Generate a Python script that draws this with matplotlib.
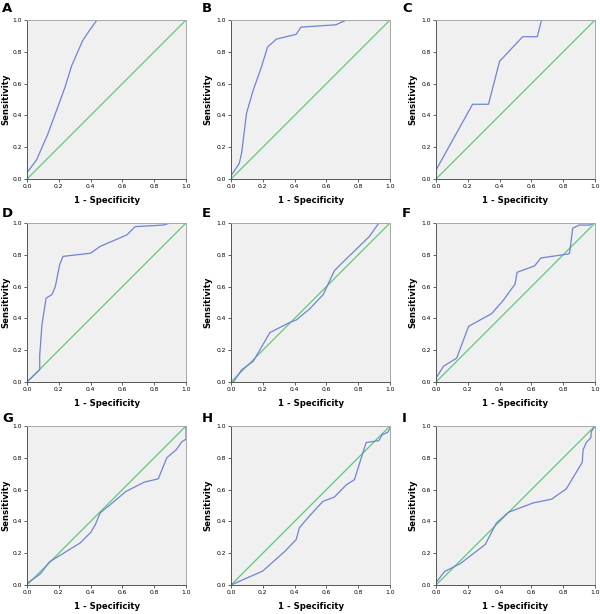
import matplotlib
matplotlib.use('Agg')
import matplotlib.pyplot as plt

# ROC curves: (1 - specificity, sensitivity)
a_x = [0, 0, 0.06, 0.13, 0.20, 0.24, 0.28, 0.35, 0.39, 0.44, 1.0]
a_y = [0, 0.04, 0.12, 0.28, 0.47, 0.58, 0.71, 0.87, 0.93, 1.0, 1.0]

b_x = [0, 0, 0.052, 0.067, 0.098, 0.14, 0.19, 0.23, 0.286, 0.41, 0.44, 0.66, 0.725, 1.0]
b_y = [0, 0.02, 0.098, 0.165, 0.415, 0.56, 0.70, 0.83, 0.88, 0.91, 0.955, 0.97, 1.0, 1.0]

c_x = [0, 0, 0.23, 0.33, 0.40, 0.545, 0.637, 0.664, 1.0]
c_y = [0, 0.056, 0.47, 0.47, 0.74, 0.895, 0.895, 1.0, 1.0]

d_x = [0, 0.08, 0.08, 0.094, 0.12, 0.157, 0.178, 0.205, 0.226, 0.40, 0.46, 0.628, 0.68, 0.857, 0.90, 1.0]
d_y = [0, 0.077, 0.17, 0.36, 0.527, 0.55, 0.60, 0.736, 0.79, 0.81, 0.853, 0.925, 0.977, 0.987, 1.0, 1.0]

e_x = [0, 0.015, 0.067, 0.14, 0.244, 0.36, 0.41, 0.495, 0.58, 0.65, 0.70, 0.87, 0.93, 1.0]
e_y = [0, 0, 0.077, 0.13, 0.31, 0.37, 0.39, 0.46, 0.55, 0.70, 0.75, 0.915, 1.0, 1.0]

f_x = [0, 0, 0.048, 0.13, 0.205, 0.35, 0.42, 0.497, 0.51, 0.62, 0.66, 0.83, 0.84, 0.86, 0.90, 0.967, 0.99, 1.0]
f_y = [0, 0.025, 0.10, 0.15, 0.35, 0.43, 0.51, 0.615, 0.69, 0.73, 0.78, 0.805, 0.81, 0.967, 0.987, 0.987, 1.0, 1.0]

g_x = [0, 0, 0.084, 0.142, 0.23, 0.335, 0.40, 0.43, 0.46, 0.523, 0.623, 0.738, 0.826, 0.879, 0.94, 0.973, 1.0, 1.0]
g_y = [0, 0.01, 0.07, 0.146, 0.20, 0.265, 0.33, 0.38, 0.453, 0.505, 0.589, 0.647, 0.668, 0.80, 0.852, 0.90, 0.917, 1.0]

h_x = [0, 0.2, 0.34, 0.41, 0.43, 0.495, 0.578, 0.65, 0.725, 0.776, 0.85, 0.93, 0.95, 0.985, 1.0, 1.0]
h_y = [0, 0.088, 0.213, 0.286, 0.36, 0.436, 0.526, 0.553, 0.63, 0.662, 0.896, 0.908, 0.944, 0.96, 0.985, 1.0]

i_x = [0, 0, 0.054, 0.152, 0.31, 0.38, 0.455, 0.61, 0.727, 0.82, 0.92, 0.925, 0.945, 0.973, 0.977, 1.0]
i_y = [0, 0.015, 0.085, 0.134, 0.255, 0.39, 0.457, 0.516, 0.54, 0.605, 0.772, 0.85, 0.896, 0.925, 0.965, 1.0]

letters = ['A', 'B', 'C', 'D', 'E', 'F', 'G', 'H', 'I']
curves = [(a_x, a_y), (b_x, b_y), (c_x, c_y), (d_x, d_y), (e_x, e_y),
          (f_x, f_y), (g_x, g_y), (h_x, h_y), (i_x, i_y)]
ticks = [0.0, 0.2, 0.4, 0.6, 0.8, 1.0]

W, H = 600, 614
fig = plt.figure(figsize=(6, 6.14), dpi=100)

col_left = [27, 231, 436]
col_origin = [0, 200, 400]
ylab_x = [-0.105, -0.12, -0.12]   # right edge of the rotated label
row_top = [20, 223, 426]
row_origin = [0, 205, 410]
size = 159

for k, (letter, (xs, ys)) in enumerate(zip(letters, curves)):
    r, c = divmod(k, 3)
    ax = fig.add_axes([col_left[c] / W, 1 - (row_top[r] + size) / H, size / W, size / H])
    ax.set_facecolor('#f0f0f0')
    ax.plot([0, 1], [0, 1], color='#5cc878', lw=0.9)
    ax.plot(xs, ys, color='#6f84d2', lw=0.9)
    ax.set_xlim(0, 1)
    ax.set_ylim(0, 1)
    ax.set_xticks(ticks)
    ax.set_yticks(ticks)
    ax.set_xticklabels(['%.1f' % t for t in ticks])
    ax.set_yticklabels(['%.1f' % t for t in ticks])
    ax.tick_params(labelsize=4.3, length=2, width=0.6, pad=1.5, color='#444444')
    for s in ['left', 'bottom']:
        ax.spines[s].set_color('#555555')
        ax.spines[s].set_linewidth(0.7)
    for s in ['top', 'right']:
        ax.spines[s].set_color('#a8a8a8')
        ax.spines[s].set_linewidth(0.7)
    ax.set_xlabel('1 - Specificity', fontsize=6.1, fontweight='bold')
    ax.xaxis.set_label_coords(0.5, -0.11)
    ax.set_ylabel('Sensitivity', fontsize=6.1, fontweight='bold')
    ax.yaxis.set_label_coords(ylab_x[c], 0.5)
    fig.text((col_origin[c] + 2) / W, 1 - (row_origin[r] + 2) / H, letter,
             fontsize=9.5, fontweight='bold', ha='left', va='top')

fig.savefig('out.png', dpi=100)
